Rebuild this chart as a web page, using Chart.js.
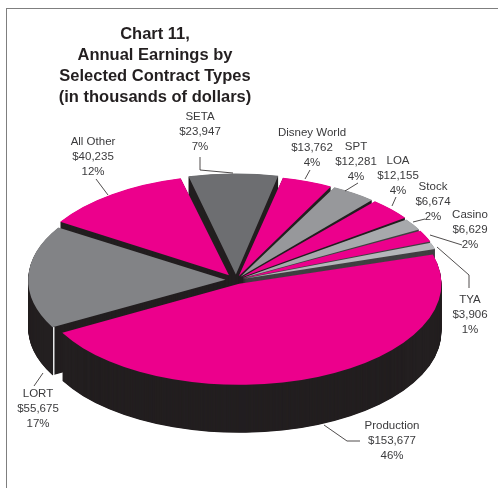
<!DOCTYPE html>
<html>
<head>
<meta charset="utf-8">
<script src="https://cdn.jsdelivr.net/npm/chart.js@4/dist/chart.umd.js"></script>
<style>
	html, body { margin: 0; padding: 0; background: #fff; overflow: hidden; }
	#wrap { position: relative; width: 498px; height: 488px; }
	#frame { position: absolute; left: 6px; top: 8px; right: -4px; bottom: -4px; border: 1.5px solid #7f7f7f; }
	canvas { position: absolute; left: 0; top: 0; }
</style>
</head>
<body>
<div id="wrap">
	<div id="frame"></div>
	<canvas id="pie" width="498" height="488"></canvas>
</div>
<script>
const contractTypes = ["LORT", "All Other", "SETA", "Disney World", "SPT", "LOA", "Stock", "Casino", "TYA", "Production"];
const earnings = [55675, 40235, 23947, 13762, 12281, 12155, 6674, 6629, 3906, 153677];
const percents = [17, 12, 7, 4, 4, 4, 2, 2, 1, 46];
const titleLines = ["Chart 11,", "Annual Earnings by", "Selected Contract Types", "(in thousands of dollars)"];

// slice look, same order as the data
const sliceColors = ["#828386", "#ec008c", "#6d6e71", "#ec008c", "#97989b", "#ec008c", "#a7a9ac", "#ec008c", "#b5b7ba", "#ec008c"];
const wallColors = ["#231f20", "#231f20", "#231f20", "#231f20", "#231f20", "#231f20", "#414042", "#414042", "#414042", "#231f20"];
const sliceOffsets = [42, 48, 44, 32, 32, 32, 28, 28, 26, 32];

// where each label block sits: centre x, first line y
const labelSpots = {
	"SETA": [200, 117], "All Other": [93, 142], "Disney World": [312, 133], "SPT": [356, 147], "LOA": [398, 161],
	"Stock": [433, 187], "Casino": [470, 215], "TYA": [470, 300], "Production": [392, 426], "LORT": [38, 394]
};
const leaderLines = [
	[[200, 157], [200, 170], [233, 173]],
	[[96, 179], [108, 195]],
	[[310, 170], [305, 179]],
	[[358, 183], [345, 191]],
	[[396, 197], [392, 206]],
	[[413, 222], [425, 219]],
	[[430, 235], [462, 245]],
	[[437, 247], [469, 275], [469, 288]],
	[[324, 425], [347, 441], [360, 441]],
	[[43, 373], [34, 386]]
];

const PIE_Y = 280;
const SQUASH = 0.5;
const DEPTH = 48;

function squash(ctx, arc, drop)
{
	ctx.translate(0, PIE_Y + drop);
	ctx.scale(1, SQUASH);
	ctx.translate(0, -arc.y);
}

// light edge down the front corner of a pulled out slice
function drawCornerEdge(ctx, arc)
{
	const mid = (arc.startAngle + arc.endAngle) / 2;
	const off = arc.options.offset / 4;
	const x = arc.x + Math.cos(mid) * off + Math.cos(arc.startAngle) * arc.outerRadius;
	const y = PIE_Y + (Math.sin(mid) * off + Math.sin(arc.startAngle) * arc.outerRadius) * SQUASH;
	ctx.save();
	ctx.strokeStyle = "#e6e7e8";
	ctx.lineWidth = 1.5;
	ctx.beginPath();
	ctx.moveTo(x, y);
	ctx.lineTo(x, y + DEPTH);
	ctx.stroke();
	ctx.restore();
}

// tilts the pie and stacks dark copies of every slice underneath it
const tiltPlugin = {
	id: "tilt",
	beforeDatasetsDraw(chart)
	{
		const ctx = chart.ctx;
		const arcs = chart.getDatasetMeta(0).data;
		for (let drop = DEPTH; drop > 0; drop -= 0.5)
		{
			arcs.forEach((arc, i) =>
			{
				const keep = arc.options;
				arc.options = Object.assign({}, keep, { backgroundColor: wallColors[i], borderWidth: 0 });
				ctx.save();
				squash(ctx, arc, drop);
				arc.draw(ctx);
				ctx.restore();
				arc.options = keep;
			});
		}
		drawCornerEdge(ctx, arcs[0]);
		ctx.save();
		squash(ctx, arcs[0], 0);
	},
	afterDatasetsDraw(chart)
	{
		chart.ctx.restore();
	},
	afterDraw(chart)
	{
		const ctx = chart.ctx;
		ctx.save();
		ctx.textAlign = "center";
		ctx.textBaseline = "middle";

		ctx.fillStyle = "#231f20";
		ctx.font = "bold 16.5px 'Liberation Sans'";
		titleLines.forEach((line, i) => ctx.fillText(line, 155, 34 + i * 21.3));

		ctx.font = "11.5px 'Liberation Sans'";
		ctx.fillStyle = "#3a3a3c";
		contractTypes.forEach((name, i) =>
		{
			const spot = labelSpots[name];
			const lines = [name, "$" + earnings[i].toLocaleString("en-US"), percents[i] + "%"];
			lines.forEach((line, n) => ctx.fillText(line, spot[0], spot[1] + n * 15.1));
		});

		ctx.strokeStyle = "#231f20";
		ctx.lineWidth = 0.8;
		leaderLines.forEach((points) =>
		{
			ctx.beginPath();
			points.forEach((p, n) => n ? ctx.lineTo(p[0], p[1]) : ctx.moveTo(p[0], p[1]));
			ctx.stroke();
		});
		ctx.restore();
	}
};

new Chart(document.getElementById("pie"),
{
	type: "pie",
	data:
	{
		labels: contractTypes,
		datasets: [{
			data: earnings,
			backgroundColor: sliceColors,
			offset: sliceOffsets,
			borderWidth: 0,
			radius: 196,
			clip: false
		}]
	},
	options:
	{
		responsive: false,
		animation: false,
		rotation: 241.2,
		layout: { padding: { right: 26 } },
		plugins:
		{
			legend: { display: false },
			title: { display: false },
			tooltip: { enabled: false }
		}
	},
	plugins: [tiltPlugin]
});
</script>
</body>
</html>
